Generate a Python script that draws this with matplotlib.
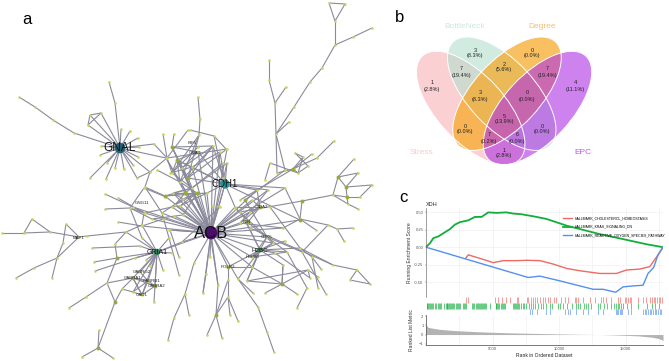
import matplotlib
matplotlib.use("Agg")
import numpy as np
import matplotlib.pyplot as plt
from matplotlib.collections import LineCollection
from matplotlib.patches import Ellipse

plt.rcParams["font.family"] = ["Liberation Sans", "DejaVu Sans"]

W, H = 669, 361

# ---- panel a: network layout ----
hub_names = ["ACB", "GNAL", "CDH1", "GRIA1", "H2BC"]
hub_x = [211, 120, 225, 157, 260]
hub_y = [233, 148, 184, 252, 250]
hub_colors = ["#4b0d6b", "#1f5f73", "#23919a", "#2f7f55", "#4f8f50"]
hub_sizes = [85, 58, 45, 22, 14]
hub_fonts = [12, 8.5, 7, 5, 4.5]

# mid-sized olive nodes, darker than the leaves
mid_x = [172, 177, 197, 188, 165, 260, 248, 302, 300, 282, 216, 115, 98, 117, 346, 347, 293, 338, 133, 155, 185, 245, 228]
mid_y = [147, 160, 193, 178, 196, 207, 222, 201, 220, 284, 315, 302, 348, 258, 187, 197, 169, 177, 278, 286, 193, 200, 267]

acb_leaves = [(197, 193), (207, 193), (192, 188), (185, 193), (180, 182), (165, 196), (173, 193),
              (183, 199), (175, 205), (172, 207), (180, 206), (183, 215), (174, 216), (162, 213),
              (152, 219), (169, 230), (182, 242), (170, 230), (157, 252), (145, 213), (225, 184),
              (212, 206), (219, 206), (235, 207), (240, 223), (248, 222), (250, 212), (252, 200),
              (260, 207), (257, 190), (268, 190), (285, 188), (300, 220), (283, 228), (260, 250),
              (267, 237), (273, 243), (252, 257), (252, 267), (228, 267), (210, 257), (194, 263),
              (206, 274), (218, 285), (203, 293), (238, 279), (133, 207), (142, 226), (192, 167),
              (198, 152), (172, 147), (166, 158), (177, 160), (182, 168), (188, 178), (213, 146),
              (220, 152), (227, 163), (227, 149)]
gnal_leaves = [(121, 129), (130, 131), (138, 138), (101, 146), (100, 155), (107, 163), (115, 168),
               (124, 169), (133, 165), (138, 157), (139, 147), (90, 178), (106, 179), (137, 178),
               (154, 144), (166, 158), (150, 172), (90, 115), (101, 113), (88, 125)]
cdh1_leaves = [(227, 163), (198, 152), (188, 178), (192, 167), (207, 193), (219, 206), (235, 207),
               (257, 190), (268, 190), (285, 188), (300, 220), (177, 160), (213, 146), (220, 152)]
gria1_leaves = [(146, 260), (150, 266), (163, 270), (140, 272), (133, 278), (148, 281), (155, 286),
                (154, 302), (135, 258), (172, 253), (169, 238), (133, 292), (142, 295)]
hbb_leaves = [(267, 237), (273, 243), (275, 253), (252, 257), (285, 241), (287, 252), (245, 220),
              (252, 267), (228, 267), (238, 279), (283, 265), (300, 248), (247, 281)]

top_paths = [
    [(329, 3), (345, 4), (335, 21), (329, 3)],
    [(335, 21), (335, 45), (322, 68), (310, 82), (294, 107), (276, 134)],
    [(335, 45), (353, 37), (372, 28)],
    [(276, 134), (289, 122)],
    [(276, 134), (275, 103), (269, 80), (269, 60)],
    [(275, 103), (286, 87)],
    [(276, 134), (277, 173)],
    [(276, 134), (285, 170)],
    [(198, 97), (200, 119), (199, 135), (188, 178)],
    [(190, 130), (214, 136), (226, 149)],
    [(214, 136), (223, 178)],
    [(19, 97), (35, 107), (53, 120), (74, 133), (120, 148)],
    [(109, 82), (115, 103), (120, 148)],
    [(90, 115), (101, 113), (88, 125), (90, 115)],
]
core_paths = [
    [(163, 134), (167, 158), (172, 173), (192, 188)],
    [(174, 134), (172, 147), (182, 168)],
    [(188, 130), (167, 158), (150, 172), (137, 178)],
    [(154, 144), (167, 158), (227, 149)],
    [(172, 147), (213, 146)],
    [(157, 170), (180, 182), (197, 193)],
    [(170, 173), (192, 167), (220, 152)],
    [(150, 172), (145, 187), (162, 213), (183, 199)],
    [(166, 158), (185, 193), (227, 163)],
    [(198, 152), (177, 160), (180, 182), (213, 146)],
    [(145, 187), (165, 196), (207, 193)],
    [(175, 205), (197, 193), (183, 215), (152, 219), (130, 208)],
    [(172, 207), (145, 213), (133, 207), (105, 194)],
    [(163, 219), (142, 226), (118, 222)],
    [(198, 147), (172, 173), (199, 135), (180, 182)],
    [(223, 163), (192, 188)],
    [(166, 197), (144, 188), (130, 208), (142, 238), (157, 252)],
    [(118, 198), (144, 213), (142, 225), (157, 252)],
    [(105, 209), (130, 208), (144, 213)],
    [(162, 213), (169, 238), (179, 275)],
    [(170, 230), (179, 257)],
    [(157, 252), (182, 242), (220, 207)],
    [(177, 160), (188, 178), (172, 147), (198, 152), (182, 168), (213, 146), (188, 178)],
    [(172, 173), (177, 160), (192, 167), (188, 178), (227, 149)],
    [(165, 196), (185, 193), (173, 193), (192, 188), (165, 196)],
    [(173, 193), (183, 199), (197, 193), (180, 206), (172, 207)],
    [(175, 205), (185, 193), (207, 193), (180, 206)],
    [(252, 200), (260, 207), (235, 207), (248, 222), (260, 207), (250, 212)],
    [(257, 190), (260, 207), (240, 223), (250, 212), (268, 190)],
    [(245, 200), (267, 237), (252, 257), (273, 243), (245, 220), (260, 250)],
    [(235, 208), (267, 237), (287, 252), (252, 257)],
]
left_paths = [
    [(2, 233), (24, 233), (32, 219), (50, 232), (24, 233)],
    [(50, 232), (79, 237), (66, 224), (63, 243), (57, 258), (34, 268), (16, 278)],
    [(57, 258), (52, 278)],
    [(79, 237), (57, 258)],
    [(79, 237), (87, 236), (126, 232), (142, 225)],
    [(126, 232), (157, 252)],
    [(92, 248), (140, 246), (157, 252)],
    [(115, 244), (117, 258), (107, 283), (115, 302)],
    [(94, 262), (117, 258), (157, 252)],
    [(95, 271), (135, 258), (157, 252)],
    [(115, 244), (126, 232)],
    [(107, 283), (133, 278), (122, 289), (115, 302)],
    [(69, 308), (86, 297), (107, 283)],
    [(115, 302), (98, 348), (82, 357)],
    [(98, 348), (99, 330)],
    [(98, 348), (113, 358)],
    [(122, 289), (133, 292), (142, 295), (155, 286), (148, 281), (133, 278), (155, 286)],
    [(140, 272), (148, 281), (142, 295), (133, 278)],
    [(133, 292), (148, 281), (133, 278), (142, 295)],
    [(168, 340), (174, 318), (185, 294), (194, 263)],
    [(185, 294), (189, 315)],
]
lower_paths = [
    [(228, 267), (228, 280), (228, 297), (216, 315), (207, 335)],
    [(216, 315), (222, 338)],
    [(228, 297), (230, 315)],
    [(228, 297), (238, 321)],
    [(228, 280), (216, 315)],
    [(210, 233), (218, 285), (216, 315)],
    [(206, 274), (203, 293)],
    [(238, 279), (253, 293)],
    [(238, 279), (258, 307), (267, 332), (274, 352)],
    [(247, 281), (308, 270), (310, 278)],
    [(247, 281), (282, 284), (265, 293)],
    [(282, 284), (297, 294)],
    [(283, 265), (282, 284), (308, 270)],
    [(252, 267), (228, 267)],
    [(260, 250), (247, 281)],
    [(252, 267), (282, 284)],
]
right_paths = [
    [(295, 153), (303, 157), (293, 169), (298, 173), (308, 166), (295, 153)],
    [(293, 169), (312, 154)],
    [(298, 173), (303, 157)],
    [(277, 173), (293, 169), (317, 158), (334, 141)],
    [(298, 173), (270, 163), (265, 180)],
    [(285, 170), (245, 200)],
    [(293, 169), (240, 200)],
    [(338, 177), (354, 159)],
    [(338, 177), (358, 173), (346, 187)],
    [(338, 177), (346, 187), (372, 185), (360, 197)],
    [(338, 177), (333, 195), (347, 197), (360, 197)],
    [(346, 187), (347, 197), (348, 204), (358, 209)],
    [(333, 195), (348, 204)],
    [(333, 195), (302, 201), (240, 212)],
    [(302, 201), (300, 219)],
    [(285, 188), (300, 219), (328, 225), (337, 229), (353, 228)],
    [(300, 219), (283, 228), (240, 223)],
    [(300, 219), (316, 230)],
    [(337, 229), (344, 241)],
    [(328, 225), (302, 252), (267, 237)],
    [(270, 207), (300, 248), (333, 265), (357, 270), (350, 280), (370, 284), (357, 270)],
    [(333, 265), (250, 228)],
    [(300, 248), (312, 257), (318, 288)],
    [(302, 252), (326, 294)],
    [(312, 257), (321, 269)],
    [(308, 270), (318, 277)],
    [(287, 252), (307, 288), (297, 308)],
    [(275, 253), (310, 278)],
    [(283, 265), (282, 284)],
]

label_names = ["GNG11", "MAP1", "GABRA1", "GABRB1", "GABRA2", "GABRG2", "GAD1", "POLR2", "F2R",
               "SDA2", "CDK5", "KIF5", "GNAI1", "HSP90"]
label_x = [142, 79, 133, 152, 157, 142, 142, 228, 247, 262, 267, 192, 195, 252]
label_y = [203, 238, 278, 281, 286, 272, 295, 267, 222, 207, 237, 143, 153, 257]

# ---- panel b: venn counts ----
venn_names = ["Stress", "BottleNeck", "Degree", "EPC"]
venn_cx = [470.7, 501.7, 507, 537.5]
venn_cy = [108, 93.7, 93.7, 108]
venn_angle = [47, 47, -47, -47]
venn_fill = ["#f7b3b8", "#b5e0cf", "#f6a823", "#b035e3"]
venn_alpha = [0.62, 0.62, 0.72, 0.62]
venn_name_colors = ["#f6ccd0", "#cbe8dc", "#f6bf73", "#c25ae8"]
venn_name_x = [421, 465, 542, 583]
venn_name_y = [152, 26, 26, 152]

count_labels = ["3\n(8.3%)", "7\n(19.4%)", "1\n(2.8%)", "2\n(5.6%)", "0\n(0.0%)", "7\n(19.4%)",
                "4\n(11.1%)", "3\n(8.3%)", "0\n(0.0%)", "5\n(13.9%)", "0\n(0.0%)", "0\n(0.0%)",
                "7\n(0.2%)", "6\n(0.0%)", "1\n(2.8%)"]
count_x = [475, 461, 432, 504, 532, 547, 575, 480, 527, 504, 465, 542, 489, 517, 504]
count_y = [53, 72, 86, 67, 53, 72, 86, 96, 96, 119, 129, 129, 138, 138, 153]

# ---- panel c: enrichment curves ----
green_rank = [0, 300, 550, 925, 1300, 1800, 2175, 2550, 3175, 3675, 4175, 4675, 5300, 6050, 6550,
              7175, 8050, 9050, 10550, 13050, 15050, 16550, 17800]
green_es = [0, .058, .13, .155, .20, .26, .325, .36, .386, .435, .435, .50, .493, .50, .483,
            .473, .444, .406, .31, .188, .106, .043, 0]
red_rank = [2975, 3175, 4050, 5050, 5800, 6800, 7550, 8550, 9550, 10550, 11550, 13050, 14300,
            15050, 16050, 16800, 17425, 17800]
red_es = [-.16, -.11, -.16, -.222, -.193, -.193, -.188, -.193, -.242, -.304, -.338, -.377, -.377,
          -.328, -.314, -.28, -.11, 0]
blue_rank = [0, 7675, 8550, 10050, 12550, 13300, 14250, 14800, 15550, 16300, 16675, 17100, 17425,
             17800]
blue_es = [0, -.435, -.415, -.483, -.604, -.604, -.647, -.57, -.556, -.546, -.377, -.29, -.11, 0]

set_names = ["HALLMARK_CHOLESTEROL_HOMEOSTASIS", "HALLMARK_KRAS_SIGNALING_DN",
             "HALLMARK_REACTIVE_OXYGEN_SPECIES_PATHWAY"]
set_colors = ["#ee6a62", "#12ae3c", "#5590ee"]

red_hits = [2975, 3175, 5175, 5425, 5675, 6000, 6300, 6800, 6925, 7550, 7675, 7850, 8000, 8175,
            8350, 8550, 8750, 8950, 9175, 9300, 9600, 9800, 10175, 10425, 10675, 11175, 11300,
            11425, 11800, 12350, 12675, 13175, 13300, 13550, 13925, 14425, 14550, 14925, 15050,
            15175, 15300, 15425, 15925, 16300, 16550, 16850, 16975, 17100, 17225, 17350, 17475,
            17600, 17725]
green_hits = [40, 110, 180, 250, 320, 400, 470, 560, 640, 720, 930, 1000, 1070, 1140, 1330, 1480,
              1540, 1600, 1680, 1750, 1820, 1900, 1990, 2060, 2140, 2220, 2300, 2390, 2480, 2570,
              2800, 2880, 2960, 3040, 3480, 3560, 3640, 3720, 3800, 3880, 3950, 4030, 4110, 4190,
              4270, 4350, 4430, 4510, 4800, 5220, 5290, 5370, 5440, 5520, 5600, 5680, 5750, 5830,
              5900, 6500, 6600, 6680, 6760, 6850, 6930, 7020, 7100, 7250, 7350, 7500, 7700, 7900,
              8050, 8200, 8400, 8600, 8800, 9000, 9300, 9500, 9900, 10100, 10300, 10600, 11000,
              11250, 11400, 11600, 11850, 12000, 12150, 12400, 12900, 13100, 13350, 13600, 13900,
              14100, 14250, 14400, 14500, 14650, 14800, 15100, 15400, 15900, 16600, 17000, 17200,
              17500]
blue_hits = [7800, 7925, 8300, 9050, 9300, 10425, 10675, 10850, 11300, 11800, 12175, 12925, 13300,
             14300, 14380, 14450, 14550, 14650, 14750, 15175, 15425, 16300, 16425, 16550, 16675,
             16800, 16925, 17050, 17175, 17300, 17425, 17550, 17675]

metric_rank = [0, 150, 400, 1000, 2000, 3000, 4000, 5000, 6000, 7000, 8000, 9000, 10000, 11000,
               12000, 13000, 14000, 15000, 16000, 17000, 17500, 17800]
metric_val = [1.1, .8, .72, .58, .45, .37, .30, .25, .2, .16, .13, .10, .07, .04, .02, 0, -.04,
              -.09, -.15, -.3, -.45, -.65]


def px_axes(fig, left, top, right, bottom):
    return fig.add_axes([left / W, 1 - bottom / H, (right - left) / W, (bottom - top) / H])


def draw_network(ax):
    segments, nodes = [], set()
    hub_pts = list(zip(hub_x, hub_y))
    stars = [(hub_pts[0], acb_leaves), (hub_pts[1], gnal_leaves), (hub_pts[2], cdh1_leaves),
             (hub_pts[3], gria1_leaves), (hub_pts[4], hbb_leaves)]
    for hub, leaves in stars:
        for leaf in leaves:
            segments.append([hub, leaf])
            nodes.add(leaf)
    for paths in (top_paths, core_paths, left_paths, lower_paths, right_paths):
        for path in paths:
            segments.extend([[a, b] for a, b in zip(path[:-1], path[1:])])
            nodes.update(path)

    ax.add_collection(LineCollection(segments, colors="#8a8a9c", linewidths=0.8, zorder=1))
    nodes = np.array(sorted(nodes))
    ax.scatter(nodes[:, 0], nodes[:, 1], s=3.5, marker="o", color="#ccd45e", linewidths=0, zorder=2)
    ax.scatter(mid_x, mid_y, s=8, color="#9aa83a", linewidths=0, zorder=2)
    ax.scatter(hub_x, hub_y, s=hub_sizes, color=hub_colors, linewidths=0, zorder=3)

    for name, x, y, size in zip(hub_names, hub_x, hub_y, hub_fonts):
        ax.text(x, y, name, fontsize=size, ha="center", va="center", color="#111111", zorder=4)
    for name, x, y in zip(label_names, label_x, label_y):
        ax.text(x, y, name, fontsize=3.2, ha="center", va="center", color="#222222", zorder=4)


def draw_venn(ax):
    for i in range(4):
        ax.add_patch(Ellipse((venn_cx[i], venn_cy[i]), 142, 67, angle=venn_angle[i],
                             facecolor=venn_fill[i], alpha=venn_alpha[i], linewidth=0, zorder=5))
    for i in range(4):
        ax.add_patch(Ellipse((venn_cx[i], venn_cy[i]), 142, 67, angle=venn_angle[i],
                             facecolor="none", edgecolor="white", linewidth=0.7, zorder=6))
    for name, x, y, c in zip(venn_names, venn_name_x, venn_name_y, venn_name_colors):
        ax.text(x, y, name, fontsize=6, color=c, ha="center", va="center", zorder=7)
    for text, x, y in zip(count_labels, count_x, count_y):
        ax.text(x, y, text, fontsize=4, color="#222222", ha="center", va="center",
                linespacing=1.25, zorder=7)


def draw_gsea(fig):
    xlim = (0, 17800)
    grid_ticks = np.arange(2500, 17501, 2500)

    top = px_axes(fig, 426, 208, 663, 297)
    top.plot(red_rank, red_es, color=set_colors[0], lw=1.0, label=set_names[0])
    top.plot(green_rank, green_es, color=set_colors[1], lw=1.3, label=set_names[1])
    top.plot(blue_rank, blue_es, color=set_colors[2], lw=1.0, label=set_names[2])
    top.set_xlim(xlim)
    top.set_ylim(-0.715, 0.563)
    top.set_xticks(grid_ticks)
    top.set_yticks([-0.5, -0.25, 0, 0.25, 0.5], ["-0.50", "-0.25", "0.00", "0.25", "0.50"])
    top.tick_params(axis="x", length=0, labelbottom=False)
    top.tick_params(axis="y", length=1, width=0.3, labelsize=3, pad=0.8, colors="#555555")
    top.grid(color="#ececec", lw=0.4)
    top.set_axisbelow(True)
    top.set_ylabel("Running Enrichment Score", fontsize=3.6, color="#333333", labelpad=1.5)
    top.set_title("XDH", fontsize=4, loc="left", pad=1.5, color="#222222")
    for side in ("top", "right", "bottom"):
        top.spines[side].set_visible(False)
    top.spines["left"].set_linewidth(0.4)
    top.spines["left"].set_color("#555555")
    top.legend(loc="upper left", bbox_to_anchor=(0.58, 0.905), frameon=False, fontsize=2.5,
               handlelength=2.4, handletextpad=0.9, labelspacing=1.25, borderpad=0, borderaxespad=0)

    rug = px_axes(fig, 426, 297, 663, 315)
    for row, hits in enumerate([blue_hits, green_hits, red_hits]):
        rug.vlines(hits, row + 0.05, row + 0.95, color=set_colors[2 - row], lw=0.45)
    rug.set_xlim(xlim)
    rug.set_ylim(0, 3)
    rug.axis("off")

    low = px_axes(fig, 426, 315, 663, 345)
    low.fill_between(metric_rank, metric_val, 0, color="#b3b3b3", linewidth=0)
    low.set_xlim(xlim)
    low.set_ylim(-1.15, 2.15)
    low.set_xticks([5000, 10000, 15000])
    low.set_xticks(grid_ticks, minor=True)
    low.set_yticks([-1, 0, 1, 2])
    low.tick_params(which="major", length=1, width=0.3, labelsize=3, pad=0.8, colors="#555555")
    low.tick_params(which="minor", length=0)
    low.grid(which="both", axis="x", color="#ececec", lw=0.4)
    low.set_axisbelow(True)
    low.set_xlabel("Rank in Ordered Dataset", fontsize=3.6, color="#222222", labelpad=1)
    low.set_ylabel("Ranked List Metric", fontsize=3.6, color="#333333", labelpad=3.5)
    for side in ("top", "right"):
        low.spines[side].set_visible(False)
    for side in ("left", "bottom"):
        low.spines[side].set_linewidth(0.5)
        low.spines[side].set_color("#444444")


def main():
    fig = plt.figure(figsize=(W / 100, H / 100), dpi=100)

    canvas = fig.add_axes([0, 0, 1, 1])
    canvas.set_xlim(0, W)
    canvas.set_ylim(H, 0)
    canvas.axis("off")

    draw_network(canvas)
    draw_venn(canvas)
    draw_gsea(fig)

    for letter, x, y in zip("abc", [27, 400, 403], [19, 18, 198]):
        canvas.text(x, y, letter, fontsize=12, ha="center", va="center", color="black")

    fig.savefig("out.png", dpi=100)
    plt.close(fig)


if __name__ == "__main__":
    main()
